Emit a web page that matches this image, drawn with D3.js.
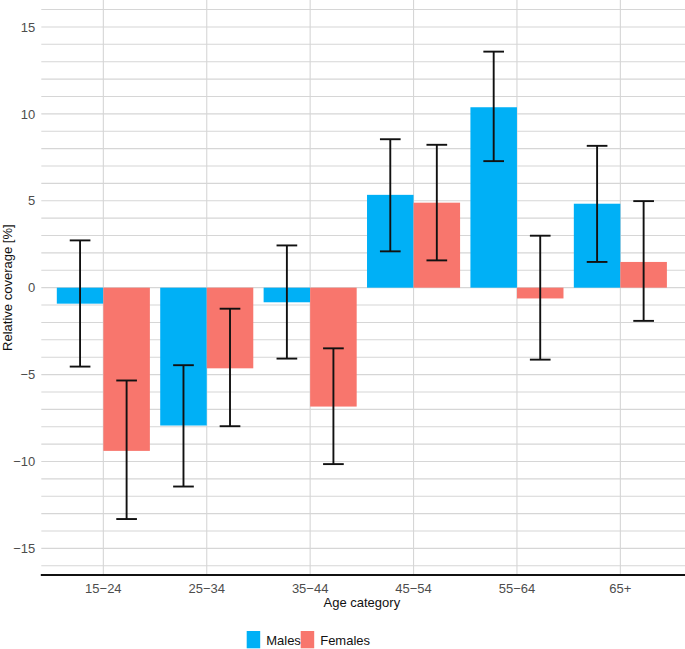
<!DOCTYPE html>
<html><head><meta charset="utf-8">
<script src="https://cdn.jsdelivr.net/npm/d3@7"></script>
<style>body{margin:0;background:#fff;font-family:"Liberation Sans",Arial,sans-serif;}</style>
</head><body><svg id="chart" width="685" height="649"></svg>
<script>
const categories = ["15\u221224","25\u221234","35\u221244","45\u221254","55\u221264","65+"];
const seriesNames = ["Males","Females"];
const malesValue = [-0.92,-7.93,-0.84,5.34,10.38,4.83];
const malesLow   = [-4.54,-11.44,-4.08,2.09,7.28,1.48];
const malesHigh  = [2.72,-4.46,2.43,8.54,13.58,8.16];
const femalesValue = [-9.39,-4.64,-6.84,4.89,-0.62,1.48];
const femalesLow   = [-13.31,-7.97,-10.15,1.57,-4.14,-1.91];
const femalesHigh  = [-5.34,-1.21,-3.49,8.22,2.99,4.98];
const yTicks = [-15,-10,-5,0,5,10,15];
const colors = ["#00B0F6","#F8766D"];

const svg = d3.select("#chart");
const L = 41.3, R = 682.4, T = 0, B = 575;
const y = d3.scaleLinear().domain([-16.53, 16.55]).range([B, T]);
// discrete positions 1..6 with ggplot-style 0.6 expansion
const xc = d3.scaleLinear().domain([0.4, 6.6]).range([L, R]);
const unit = xc(1) - xc(0);
const cx = c => xc(categories.indexOf(c) + 1);

const g = svg.append("g");
const minor = d3.range(-16, 17, 1);
g.selectAll("line.hg").data(minor).enter().append("line")
  .attr("x1", L).attr("x2", 685).attr("y1", d => y(d)).attr("y2", d => y(d))
  .attr("stroke", "#d6d6d6").attr("stroke-width", 1.1);
g.selectAll("line.vg").data(categories).enter().append("line")
  .attr("x1", d => cx(d)).attr("x2", d => cx(d)).attr("y1", T).attr("y2", B)
  .attr("stroke", "#d6d6d6").attr("stroke-width", 1.1);

const data = [];
categories.forEach((c, i) => {
  data.push({c, s: 0, v: malesValue[i], lo: malesLow[i], hi: malesHigh[i]});
  data.push({c, s: 1, v: femalesValue[i], lo: femalesLow[i], hi: femalesHigh[i]});
});
const bw = 0.45 * unit;
const bx = d => cx(d.c) + (d.s === 0 ? -bw : 0);
g.selectAll("rect.bar").data(data).enter().append("rect")
  .attr("x", bx).attr("width", bw)
  .attr("y", d => y(Math.max(0, d.v))).attr("height", d => Math.abs(y(d.v) - y(0)))
  .attr("fill", d => colors[d.s]);

const cap = 0.2 * unit;
const ec = d => bx(d) + bw / 2;
const eb = g.selectAll("g.eb").data(data).enter().append("g")
  .attr("stroke", "#111").attr("stroke-width", 1.9);
eb.append("line").attr("x1", ec).attr("x2", ec).attr("y1", d => y(d.hi)).attr("y2", d => y(d.lo));
eb.append("line").attr("x1", d => ec(d) - cap/2).attr("x2", d => ec(d) + cap/2).attr("y1", d => y(d.hi)).attr("y2", d => y(d.hi));
eb.append("line").attr("x1", d => ec(d) - cap/2).attr("x2", d => ec(d) + cap/2).attr("y1", d => y(d.lo)).attr("y2", d => y(d.lo));

const ya = svg.append("g").attr("transform", `translate(${L},0)`)
  .call(d3.axisLeft(y).tickValues(yTicks).tickSize(0).tickPadding(6).tickFormat(d => d < 0 ? "\u2212" + Math.abs(d) : d));
ya.select(".domain").remove();
ya.selectAll("text").attr("font-family", "Liberation Sans, Arial, sans-serif").attr("font-size", 13).attr("fill", "#4d4d4d");

const xa = svg.append("g").attr("transform", `translate(0,${B})`);
xa.append("line").attr("x1", L - 0.5).attr("x2", 685).attr("y1", 0).attr("y2", 0).attr("stroke", "#111").attr("stroke-width", 2);
xa.selectAll("text").data(categories).enter().append("text")
  .attr("x", d => cx(d)).attr("y", 18).attr("text-anchor", "middle")
  .attr("font-size", 13).attr("fill", "#4d4d4d").text(d => d);

svg.append("text").attr("x", (L + R) / 2).attr("y", 607).attr("text-anchor", "middle")
  .attr("font-size", 13).attr("fill", "#111").text("Age category");
svg.append("text").attr("transform", `translate(12,${y(0)}) rotate(-90)`).attr("text-anchor", "middle")
  .attr("font-size", 13).attr("fill", "#111").text("Relative coverage [%]");

const lg = svg.append("g");
const legX = [246.7, 300.7];
seriesNames.forEach((s, i) => {
  lg.append("rect").attr("x", legX[i]).attr("y", 631).attr("width", 13.5).attr("height", 17.3).attr("fill", colors[i]);
  lg.append("text").attr("x", legX[i] + 19.5).attr("y", 644.5).attr("font-size", 13).attr("fill", "#111").text(s);
});
</script></body></html>
